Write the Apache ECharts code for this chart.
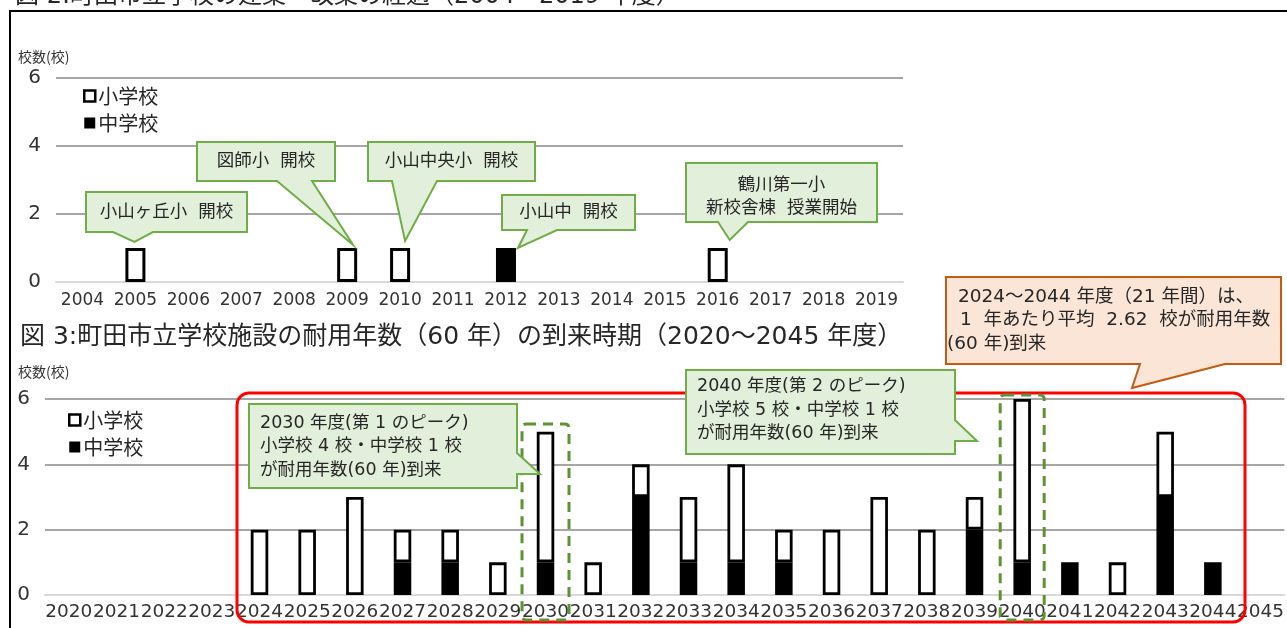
<!DOCTYPE html>
<html>
<head>
<meta charset="utf-8">
<script src="https://cdn.jsdelivr.net/npm/echarts@6/dist/echarts.min.js"></script>
<style>
html, body { margin: 0; padding: 0; background: #fff; }
#chart { width: 1287px; height: 628px; }
</style>
</head>
<body>
<div id="chart"></div>
<script>
// 図2: 2004-2019 建築・改築
var years1 = ['2004','2005','2006','2007','2008','2009','2010','2011','2012','2013','2014','2015','2016','2017','2018','2019'];
var elem1  = [0,1,0,0,0,1,1,0,0,0,0,0,1,0,0,0];
var mid1   = [0,0,0,0,0,0,0,0,1,0,0,0,0,0,0,0];

// 図3: 2020-2045 耐用年数到来
var years2 = ['2020','2021','2022','2023','2024','2025','2026','2027','2028','2029','2030','2031','2032',
              '2033','2034','2035','2036','2037','2038','2039','2040','2041','2042','2043','2044','2045'];
var elem2  = [0,0,0,0,2,2,3,1,1,1,4,1,1,2,3,1,2,3,2,1,5,0,1,2,0,0];
var mid2   = [0,0,0,0,0,0,0,1,1,0,1,0,3,1,1,1,0,0,0,2,1,1,0,3,1,0];

var yMax = 6, yStep = 2;

var title1 = '図 2:町田市立学校の建築・改築の経過（2004～2019 年度）';
var title2 = '図 3:町田市立学校施設の耐用年数（60 年）の到来時期（2020～2045 年度）';
var yName = '校数(校)';

var FONT = '"DejaVu Sans","Noto Sans CJK JP",sans-serif';
var JP = '"Noto Sans CJK JP",sans-serif';

var chart = echarts.init(document.getElementById('chart'));

function nz(arr) {
    return arr.map(function (v) { return v ? v : '-'; });
}

function barSeries(name, data, idx, width, fill, border) {
    return {
        name: name,
        type: 'bar',
        stack: 'total' + idx,
        xAxisIndex: idx,
        yAxisIndex: idx,
        barWidth: width,
        data: nz(data),
        itemStyle: { color: fill, borderColor: '#000', borderWidth: border },
        emphasis: { disabled: true }
    };
}

var legendData = [
    { name: '小学校', itemStyle: { color: '#fff', borderColor: '#000', borderWidth: 2.5 } },
    { name: '中学校', itemStyle: { color: '#000', borderWidth: 0 } }
];

function legend(left, top) {
    return {
        data: legendData,
        orient: 'vertical',
        left: left,
        top: top,
        padding: 0,
        icon: 'rect',
        itemWidth: 11,
        itemHeight: 11,
        itemGap: 7,
        selectedMode: false,
        textStyle: { fontFamily: JP, fontSize: 20, color: '#262626', lineHeight: 20, padding: [0, 0, 0, -2] }
    };
}

function xAxis(idx, data, size, margin) {
    return {
        gridIndex: idx,
        type: 'category',
        data: data,
        axisTick: { show: false },
        axisLine: { lineStyle: { color: '#d9d9d9', width: 2 } },
        axisLabel: { interval: 0, fontFamily: FONT, fontSize: size, color: '#333', margin: margin }
    };
}

function yAxis(idx, margin) {
    return {
        gridIndex: idx,
        type: 'value',
        min: 0,
        max: yMax,
        interval: yStep,
        axisLine: { show: false },
        axisTick: { show: false },
        axisLabel: { fontFamily: FONT, fontSize: 20, color: '#333', margin: margin },
        splitLine: { lineStyle: { color: ['#d9d9d9', '#a6a6a6', '#a6a6a6', '#a6a6a6'], width: 2 } }
    };
}

chart.setOption({
    animation: false,
    backgroundColor: '#fff',
    grid: [
        { left: 56, top: 78, width: 847, height: 204 },
        { left: 45, top: 399, width: 1243, height: 196 }
    ],
    legend: [legend(83, 86), legend(68, 410)],
    xAxis: [xAxis(0, years1, 17, 10), xAxis(1, years2, 18.5, 8)],
    yAxis: [yAxis(0, 15), yAxis(1, 15)],
    series: [
        barSeries('中学校', mid1, 0, 20, '#000', 3),
        barSeries('小学校', elem1, 0, 20, '#fff', 3),
        barSeries('中学校', mid2, 1, 17.5, '#000', 2.8),
        barSeries('小学校', elem2, 1, 17.5, '#fff', 2.8)
    ]
});

function px(idx, cat, val) {
    return chart.convertToPixel({ xAxisIndex: idx, yAxisIndex: idx }, [cat, val]);
}

// callout box with a pointer on the bottom or right edge
function callout(x, y, w, h, side, a, b, tip, fill, stroke) {
    var pts;
    if (side === 'bottom') {
        pts = [[x, y], [x + w, y], [x + w, y + h], [b, y + h], tip, [a, y + h], [x, y + h]];
    } else {
        pts = [[x, y], [x + w, y], [x + w, a], tip, [x + w, b], [x + w, y + h], [x, y + h]];
    }
    return {
        type: 'polygon',
        z: 100,
        shape: { points: pts },
        style: { fill: fill, stroke: stroke, lineWidth: 2 }
    };
}

function text(str, x, y, size, align, lh) {
    return {
        type: 'text',
        z: 101,
        style: {
            text: str, x: x, y: y,
            font: size + 'px ' + FONT,
            fill: '#262626',
            textAlign: align || 'center',
            textVerticalAlign: 'middle',
            lineHeight: lh || size
        }
    };
}

function dashedBox(cat, top, w) {
    var c = px(1, cat, 0)[0];
    return {
        type: 'rect',
        z: 99,
        shape: { x: c - w / 2, y: top, width: w, height: 620 - top, r: 4 },
        style: { fill: 'none', stroke: '#5f9136', lineWidth: 3, lineDash: [10, 7] }
    };
}

function offset(p, dx, dy) { return [p[0] + dx, p[1] + dy]; }

var G_FILL = '#e2efda', G_LINE = '#70ad47';
var O_FILL = '#fbe5d6', O_LINE = '#c55a11';

var t2005 = offset(px(0, '2005', 1), -1, -6);
var t2009 = offset(px(0, '2009', 1), 6, -3);
var t2010 = offset(px(0, '2010', 1), 5, -7);
var t2012 = offset(px(0, '2012', 1), 12, 0);
var t2016 = offset(px(0, '2016', 1), 12, -8);

chart.setOption({
    graphic: { elements: [
        // frame
        { type: 'line', z: 100, shape: { x1: 10, y1: 11, x2: 1287, y2: 11 }, style: { stroke: '#000', lineWidth: 2 } },
        { type: 'line', z: 100, shape: { x1: 10, y1: 10, x2: 10, y2: 628 }, style: { stroke: '#000', lineWidth: 2 } },

        // titles and axis names
        { type: 'text', z: 101, style: { text: title1, x: 15, y: -3, font: '24px ' + FONT, fill: '#262626', textVerticalAlign: 'middle' } },
        { type: 'text', z: 101, style: { text: title2, x: 20, y: 337, font: '25px ' + FONT, fill: '#262626', textVerticalAlign: 'middle' } },
        { type: 'text', z: 101, style: { text: yName, x: 18, y: 57, font: '14px ' + JP, fill: '#333', textVerticalAlign: 'middle' } },
        { type: 'text', z: 101, style: { text: yName, x: 18, y: 372, font: '14px ' + JP, fill: '#333', textVerticalAlign: 'middle' } },

        // top chart callouts
        callout(86, 192, 161, 40, 'bottom', 113, 153, t2005, G_FILL, G_LINE),
        text('小山ヶ丘小  開校', 166.5, 212, 17.5),
        callout(197, 142, 138, 39, 'bottom', 277, 312, t2009, G_FILL, G_LINE),
        text('図師小  開校', 266, 161.5, 17.5),
        callout(368, 142, 167, 39, 'bottom', 392, 437, t2010, G_FILL, G_LINE),
        text('小山中央小  開校', 451.5, 161.5, 17.5),
        callout(502, 195, 133, 35, 'bottom', 527, 557, t2012, G_FILL, G_LINE),
        text('小山中  開校', 568.5, 212.5, 17.5),
        callout(686, 163, 191, 59, 'bottom', 718, 748, t2016, G_FILL, G_LINE),
        text('鶴川第一小\n新校舎棟  授業開始', 781.5, 196.5, 17.5, 'center', 23),

        // bottom chart highlight boxes
        { type: 'rect', z: 98, shape: { x: 237, y: 393, width: 1008, height: 229, r: 12 },
          style: { fill: 'none', stroke: '#ff0000', lineWidth: 3 } },
        dashedBox('2030', 424, 47),
        dashedBox('2040', 395, 44),

        // bottom chart callouts
        callout(249, 404, 268, 84, 'right', 453, 474, [540, 474], G_FILL, G_LINE),
        text('2030 年度(第 1 のピーク)\n小学校 4 校・中学校 1 校\nが耐用年数(60 年)到来', 260, 446.5, 17.5, 'left', 23.5),
        callout(686, 370, 269, 84, 'right', 420, 441, [977, 441], G_FILL, G_LINE),
        text('2040 年度(第 2 のピーク)\n小学校 5 校・中学校 1 校\nが耐用年数(60 年)到来', 697, 410, 17.5, 'left', 23.5),
        callout(946, 277, 335, 87, 'bottom', 1140, 1225, [1132, 388], O_FILL, O_LINE),
        text('2024～2044 年度（21 年間）は、', 958, 297, 18.5, 'left'),
        text('1  年あたり平均  2.62  校が耐用年数', 960, 320, 18.5, 'left'),
        text('(60 年)到来', 947, 344, 18.5, 'left')
    ] }
});
</script>
</body>
</html>
